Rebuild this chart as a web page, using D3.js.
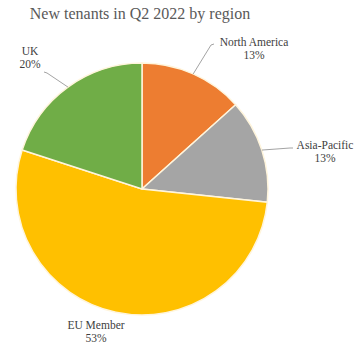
<!DOCTYPE html>
<html>
<head>
<meta charset="utf-8">
<script src="https://cdn.jsdelivr.net/npm/d3@7"></script>
<style>
  html, body { margin: 0; padding: 0; background: #fff; }
  svg { display: block; }
</style>
</head>
<body>
<svg id="chart" width="358" height="345"></svg>
<script>
// Regions and their tenant counts for Q2 2022
const regions = ["North America", "Asia-Pacific", "EU Member", "UK"];
const tenants = [2, 2, 8, 3];
const colors = ["#ED7D31", "#A5A5A5", "#FFC000", "#70AD47"];
const title = "New tenants in Q2 2022 by region";

// Label placement (centre of the label block) and leader line end points
const labelLayout = [
  { x: 254, y: 42, anchor: "middle", leader: [[211, 45], [214, 44]] },
  { x: 325, y: 145, anchor: "middle", leader: [[290, 148], [293, 148]] },
  { x: 96, y: 325, anchor: "middle", leader: null },
  { x: 30, y: 51, anchor: "middle", leader: [[47, 73], [44, 72]] }
];

const svg = d3.select("#chart");
const cx = 142, cy = 189, r = 126;

svg.append("text")
  .attr("x", 140).attr("y", 19)
  .attr("text-anchor", "middle")
  .attr("font-family", "'Liberation Serif', 'Times New Roman', serif")
  .attr("font-size", 16)
  .attr("fill", "#595959")
  .text(title);

const total = d3.sum(tenants);
const pie = d3.pie().sort(null).value(d => d)(tenants);
const arc = d3.arc().innerRadius(0).outerRadius(r);
const edge = d3.arc().innerRadius(r).outerRadius(r);

const g = svg.append("g").attr("transform", `translate(${cx},${cy})`);

g.selectAll("path.slice")
  .data(pie)
  .join("path")
  .attr("class", "slice")
  .attr("d", arc)
  .attr("fill", (d, i) => colors[i])
  .attr("stroke", "#FFF5DC")
  .attr("stroke-width", 1.5);

// Leader lines from each slice's outer edge to its label
pie.forEach((d, i) => {
  const L = labelLayout[i];
  if (!L.leader) return;
  const [ex, ey] = edge.centroid(d);
  const pts = [[cx + ex, cy + ey]].concat(L.leader);
  svg.append("path")
    .attr("d", d3.line()(pts))
    .attr("fill", "none")
    .attr("stroke", "#8C8C8C")
    .attr("stroke-width", 0.8);
});

// Category name and percentage labels
pie.forEach((d, i) => {
  const L = labelLayout[i];
  const t = svg.append("text")
    .attr("text-anchor", L.anchor)
    .attr("font-family", "'Liberation Serif', 'Times New Roman', serif")
    .attr("font-size", 11.5)
    .attr("fill", "#404040");
  t.append("tspan").attr("x", L.x).attr("y", L.y + 4).text(regions[i]);
  t.append("tspan").attr("x", L.x).attr("y", L.y + 17)
    .text(d3.format(".0%")(tenants[i] / total));
});
</script>
</body>
</html>
